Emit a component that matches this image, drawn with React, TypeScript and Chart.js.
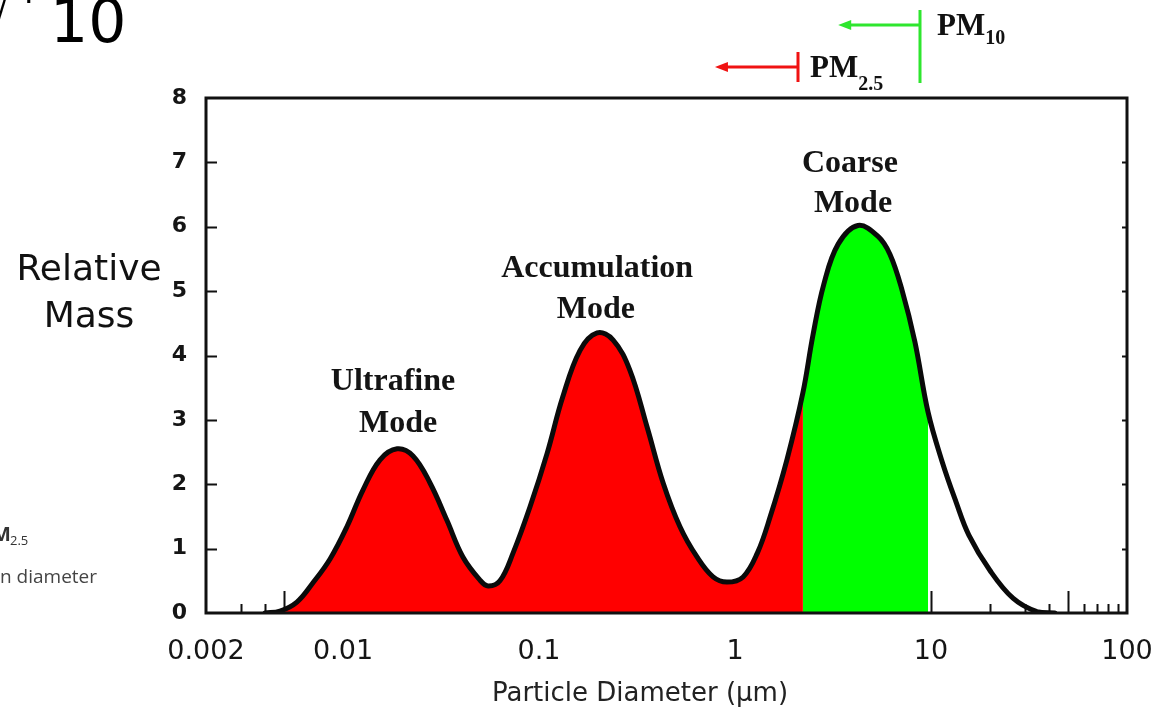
import React, { useEffect, useRef } from 'react';
import { Chart, registerables } from 'chart.js';

Chart.register(...registerables);

// ---- data ----
const diameterUm = [
  0.004, 0.00477, 0.00582, 0.00703, 0.00859, 0.01047, 0.01264, 0.01545, 0.01888, 0.02276,
  0.0278, 0.0339, 0.0409, 0.05, 0.055, 0.0632, 0.0737, 0.09, 0.11, 0.132,
  0.162, 0.198, 0.239, 0.291, 0.356, 0.43, 0.524, 0.64, 0.773, 0.91,
  1.1, 1.3, 1.51, 1.84, 2.22, 2.5, 2.84, 3.36, 4.24, 5.37,
  6.18, 7.11, 8.28, 9.66, 11.4, 13.4, 15.6, 20.0, 26.2, 34.7, 42.9,
];
const relativeMass = [
  0, 0.03, 0.17, 0.47, 0.84, 1.34, 1.91, 2.38, 2.55, 2.44,
  2.02, 1.44, 0.87, 0.51, 0.42, 0.5, 0.93, 1.65, 2.48, 3.35,
  4.08, 4.35, 4.24, 3.77, 2.89, 2.02, 1.34, 0.87, 0.56, 0.48,
  0.56, 0.93, 1.49, 2.38, 3.42, 4.32, 5.11, 5.73, 6.02, 5.85,
  5.57, 5.02, 4.21, 3.12, 2.35, 1.73, 1.21, 0.66, 0.23, 0.02, 0,
];
const pm25Cut = 2.22;
const pm10Cut = 9.66;

const xTickValues = [0.002, 0.01, 0.1, 1, 10, 100];
const xTickLabels = ['0.002', '0.01', '0.1', '1', '10', '100'];
const yTickLabels = ['0', '1', '2', '3', '4', '5', '6', '7', '8'];

const modeLabels = [
  { text: 'Ultrafine', x: 0.018, y: 3.46 },
  { text: 'Mode', x: 0.0191, y: 2.81 },
  { text: 'Accumulation', x: 0.198, y: 5.22 },
  { text: 'Mode', x: 0.195, y: 4.58 },
  { text: 'Coarse', x: 3.86, y: 6.85 },
  { text: 'Mode', x: 4.0, y: 6.23 },
];

const pmMarkers = [
  { name: 'PM', sub: '10', cut: 8.8, arrowTip: 3.36, color: '#2ee62e', level: 0 },
  { name: 'PM', sub: '2.5', cut: 2.1, arrowTip: 0.79, color: '#f01212', level: 1 },
];

// ---- styles ----
const markerStyles = [
  { lineY: 25, barTop: 10, barBottom: 83, gap: 17, base: 35, subBase: 44 },
  { lineY: 67, barTop: 52, barBottom: 82, gap: 12, base: 77, subBase: 90 },
];
const CURVE_TENSION = 0.38;

const curvePoints = diameterUm.map((d, i) => ({ x: d, y: relativeMass[i] }));
const redPoints = curvePoints.filter((p) => p.x <= pm25Cut);
const greenPoints = curvePoints.filter((p) => p.x >= pm25Cut && p.x <= pm10Cut);

const decorPlugin = {
  id: 'decor',
  beforeDatasetsDraw(chart: any) {
    const { ctx, chartArea: a, scales } = chart;
    const x = scales.x;
    const y = scales.y;
    ctx.save();
    ctx.strokeStyle = '#111';
    ctx.lineWidth = 2;
    ctx.beginPath();
    for (let e = -3; e <= 1; e++) {
      for (let m = 1; m <= 9; m++) {
        const v = m * Math.pow(10, e);
        if (v < 0.0021 || v > 99) continue;
        const px = Math.round(x.getPixelForValue(v)) + 0.5;
        const len = m === 1 || m === 5 ? 22 : 9;
        ctx.moveTo(px, a.bottom);
        ctx.lineTo(px, a.bottom - len);
      }
    }
    for (let v = 1; v < 8; v++) {
      const py = Math.round(y.getPixelForValue(v)) + 0.5;
      ctx.moveTo(a.left, py);
      ctx.lineTo(a.left + 11, py);
      ctx.moveTo(a.right, py);
      ctx.lineTo(a.right - 5, py);
    }
    ctx.stroke();
    ctx.restore();
  },
  afterDatasetsDraw(chart: any) {
    const { ctx, chartArea: a, scales } = chart;
    const x = scales.x;
    const y = scales.y;
    ctx.save();
    // frame
    ctx.strokeStyle = '#111';
    ctx.lineWidth = 3;
    ctx.strokeRect(a.left, a.top, a.right - a.left, a.bottom - a.top);

    // mode labels
    ctx.fillStyle = '#141414';
    ctx.font = 'bold 32px "Liberation Serif"';
    ctx.textAlign = 'center';
    ctx.textBaseline = 'alphabetic';
    modeLabels.forEach((l) => {
      ctx.fillText(l.text, x.getPixelForValue(l.x), y.getPixelForValue(l.y));
    });

    // PM markers
    pmMarkers.forEach((m) => {
      const s = markerStyles[m.level];
      const bx = Math.round(x.getPixelForValue(m.cut));
      const tip = x.getPixelForValue(m.arrowTip);
      ctx.strokeStyle = m.color;
      ctx.fillStyle = m.color;
      ctx.lineWidth = 3;
      ctx.beginPath();
      ctx.moveTo(bx, s.barTop);
      ctx.lineTo(bx, s.barBottom);
      ctx.moveTo(bx, s.lineY);
      ctx.lineTo(tip + 8, s.lineY);
      ctx.stroke();
      ctx.beginPath();
      ctx.moveTo(tip, s.lineY);
      ctx.lineTo(tip + 13, s.lineY - 5);
      ctx.lineTo(tip + 13, s.lineY + 5);
      ctx.closePath();
      ctx.fill();
      ctx.fillStyle = '#111';
      ctx.textAlign = 'left';
      ctx.font = 'bold 31px "Liberation Serif"';
      const tx = bx + s.gap;
      ctx.fillText(m.name, tx, s.base);
      const w = ctx.measureText(m.name).width;
      ctx.font = 'bold 20px "Liberation Serif"';
      ctx.fillText(m.sub, tx + w, s.subBase);
    });
    ctx.restore();
  },
  afterDraw(chart: any) {
    const { ctx } = chart;
    ctx.save();
    ctx.fillStyle = '#111';
    ctx.textBaseline = 'alphabetic';
    // y axis title
    ctx.textAlign = 'center';
    ctx.font = '36px "DejaVu Sans"';
    ctx.fillText('Relative', 89, 280);
    ctx.fillText('Mass', 89, 327);
    // x axis title
    ctx.font = '26px "DejaVu Sans"';
    ctx.fillStyle = '#222';
    ctx.fillText('Particle Diameter (\u03bcm)', 640, 701);
    // cropped fragments at the left of the picture
    ctx.textAlign = 'left';
    ctx.fillStyle = '#000';
    ctx.font = '60px "DejaVu Sans"';
    ctx.fillText('10', 50, 42);
    ctx.font = '30px "DejaVu Sans"';
    ctx.fillText('/', -3, 18);
    ctx.fillText('\u00b7', 24, 12);
    ctx.fillStyle = '#333';
    ctx.font = 'bold 20px "Open Sans"';
    ctx.fillText('M', -8, 541);
    ctx.font = '13px "Open Sans"';
    ctx.fillText('2.5', 10, 545);
    ctx.fillStyle = '#444';
    ctx.font = '19px "Open Sans"';
    ctx.fillText('n diameter', 0, 583);
    ctx.restore();
  },
};

export default function App() {
  const canvasRef = useRef<HTMLCanvasElement | null>(null);

  useEffect(() => {
    document.body.style.margin = '0';
    const canvas = canvasRef.current;
    if (!canvas) return;
    const chart = new Chart(canvas, {
      type: 'line',
      data: {
        datasets: [
          {
            label: 'Relative mass',
            data: curvePoints,
            borderColor: '#0a0a0a',
            borderWidth: 5,
            pointRadius: 0,
            fill: false,
            tension: CURVE_TENSION,
            order: 0,
            borderCapStyle: 'round',
            borderJoinStyle: 'round',
          },
          {
            label: 'PM10 fraction',
            data: greenPoints,
            borderWidth: 0,
            borderColor: 'rgba(0,0,0,0)',
            backgroundColor: '#00ff00',
            pointRadius: 0,
            fill: 'origin',
            tension: CURVE_TENSION,
            order: 1,
          },
          {
            label: 'PM2.5 fraction',
            data: redPoints,
            borderWidth: 0,
            borderColor: 'rgba(0,0,0,0)',
            backgroundColor: '#ff0000',
            pointRadius: 0,
            fill: 'origin',
            tension: CURVE_TENSION,
            order: 2,
          },
        ],
      },
      options: {
        responsive: false,
        animation: false,
        devicePixelRatio: 1,
        layout: { padding: { top: 98, right: 45, left: 0, bottom: 0 } },
        plugins: {
          legend: { display: false },
          tooltip: { enabled: false },
          title: { display: false },
        },
        scales: {
          x: {
            type: 'logarithmic',
            min: 0.002,
            max: 100,
            grid: { display: false },
            border: { display: false },
            afterBuildTicks: (scale: any) => {
              scale.ticks = xTickValues.map((v) => ({ value: v }));
            },
            afterFit: (scale: any) => {
              scale.height = 102;
            },
            ticks: {
              autoSkip: false,
              maxRotation: 0,
              padding: 15,
              color: '#151515',
              font: { family: '"DejaVu Sans"', size: 27 },
              callback: (_v: any, i: number) => xTickLabels[i],
            },
          },
          y: {
            type: 'linear',
            min: 0,
            max: 8,
            grid: { display: false },
            border: { display: false },
            afterFit: (scale: any) => {
              scale.width = 206;
            },
            ticks: {
              stepSize: 1,
              padding: 11,
              color: '#151515',
              font: { family: '"DejaVu Sans"', size: 22, weight: 'bold' },
              callback: (_v: any, i: number) => yTickLabels[i],
            },
          },
        },
      },
      plugins: [decorPlugin],
    } as any);
    return () => chart.destroy();
  }, []);

  return (
    <div style={{ position: 'fixed', left: 0, top: 0, width: 1172, height: 715, background: '#fff' }}>
      <canvas ref={canvasRef} width={1172} height={715} style={{ width: 1172, height: 715, display: 'block' }} />
    </div>
  );
}
